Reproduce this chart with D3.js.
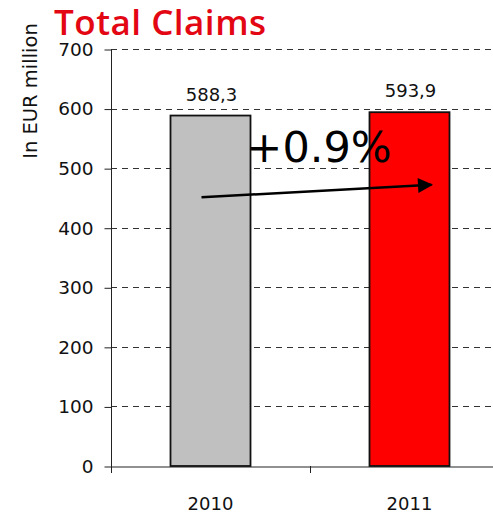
<!DOCTYPE html>
<html>
<head>
<meta charset="utf-8">
<script src="https://cdn.jsdelivr.net/npm/d3@7"></script>
<style>
  body { margin: 0; background: #fff; }
  svg { display: block; }
</style>
</head>
<body>
<div class="home"></div>
<script>
// Chart data
var years = ["2010", "2011", ""];
var claims = [588.3, 593.9];
var claimLabels = ["588,3", "593,9"];
var barColors = ["#c0c0c0", "#ff0000"];
var yTicks = [0, 100, 200, 300, 400, 500, 600, 700];
var growthLabel = "+0.9%";
// arrow start / end values (EUR million)
var arrowValues = [451, 472];

var width = 493,
    height = 515;
var font = "DejaVu Sans, sans-serif";

var svg = d3.select(".home").append("svg")
    .attr("width", width)
    .attr("height", height);

// scales
var x = d3.scaleBand()
    .domain(years)
    .range([111, 708])
    .paddingInner(0)
    .paddingOuter(0);

var y = d3.scaleLinear()
    .domain([0, 700])
    .range([466, 49]);

// dashed grid lines
svg.append("g")
    .selectAll("line")
    .data(yTicks.slice(1))
    .enter().append("line")
    .attr("x1", 111)
    .attr("x2", width)
    .attr("y1", function (d) { return Math.round(y(d)) + 0.5; })
    .attr("y2", function (d) { return Math.round(y(d)) + 0.5; })
    .attr("stroke", "#333")
    .attr("stroke-width", 1)
    .attr("stroke-dasharray", "6,5");

// y axis
var yAxis = svg.append("g")
    .attr("transform", "translate(111.5,0.5)")
    .call(d3.axisLeft(y).tickValues(yTicks).tickSize(7).tickPadding(11).tickFormat(d3.format("d")));
yAxis.select(".domain").attr("stroke", "#222").attr("d", "M0," + y(700) + "V" + y(0));
yAxis.selectAll(".tick line").attr("stroke", "#222");
yAxis.selectAll(".tick text")
    .attr("font-family", font)
    .attr("font-size", 18.5)
    .attr("fill", "#111");

// x axis
var xAxis = svg.append("g")
    .attr("transform", "translate(0," + (y(0) + 0.5) + ")")
    .call(d3.axisBottom(x).tickSize(0).tickFormat(""));
xAxis.select(".domain").attr("stroke", "#222");
// category boundary ticks
svg.append("g")
    .selectAll("line")
    .data(years)
    .enter().append("line")
    .attr("x1", function (d) { return Math.round(x(d)) + 0.5; })
    .attr("x2", function (d) { return Math.round(x(d)) + 0.5; })
    .attr("y1", y(0))
    .attr("y2", y(0) + 7)
    .attr("stroke", "#222");

// category labels
svg.append("g")
    .selectAll("text")
    .data(years.slice(0, 2))
    .enter().append("text")
    .attr("x", function (d) { return x(d) + x.bandwidth() / 2; })
    .attr("y", 510)
    .attr("text-anchor", "middle")
    .attr("font-family", font)
    .attr("font-size", 18)
    .attr("fill", "#111")
    .text(function (d) { return d; });

// bars
var barW = 80;
svg.append("g")
    .selectAll("rect")
    .data(claims)
    .enter().append("rect")
    .attr("x", function (d, i) { return x(years[i]) + x.bandwidth() / 2 - barW / 2; })
    .attr("y", function (d) { return y(d); })
    .attr("width", barW)
    .attr("height", function (d) { return y(0) - y(d); })
    .attr("fill", function (d, i) { return barColors[i]; })
    .attr("stroke", "#111")
    .attr("stroke-width", 1.8);

// value labels
svg.append("g")
    .selectAll("text")
    .data(claims)
    .enter().append("text")
    .attr("x", function (d, i) { return x(years[i]) + x.bandwidth() / 2 + 1; })
    .attr("y", function (d) { return y(d) - 15; })
    .attr("text-anchor", "middle")
    .attr("font-family", font)
    .attr("font-size", 18)
    .attr("fill", "#111")
    .text(function (d, i) { return claimLabels[i]; });

// arrow
svg.append("defs").append("marker")
    .attr("id", "head")
    .attr("viewBox", "0 0 10 10")
    .attr("refX", 9)
    .attr("refY", 5)
    .attr("markerWidth", 6.5)
    .attr("markerHeight", 6)
    .attr("orient", "auto")
    .append("path")
    .attr("d", "M0,0L10,5L0,10Z")
    .attr("fill", "#000");

svg.append("line")
    .attr("x1", x(years[0]) + x.bandwidth() / 2 - 9)
    .attr("y1", y(arrowValues[0]))
    .attr("x2", x(years[1]) + x.bandwidth() / 2 + 22)
    .attr("y2", y(arrowValues[1]))
    .attr("stroke", "#000")
    .attr("stroke-width", 2.5)
    .attr("marker-end", "url(#head)");

// growth label
svg.append("text")
    .attr("x", 319)
    .attr("y", 162)
    .attr("text-anchor", "middle")
    .attr("font-family", font)
    .attr("font-size", 43)
    .attr("fill", "#000")
    .text(growthLabel);

// title
svg.append("text")
    .attr("x", 54)
    .attr("y", 35)
    .attr("font-family", "Open Sans, sans-serif")
    .attr("font-weight", 600)
    .attr("font-size", 35)
    .attr("letter-spacing", 0.5)
    .attr("fill", "#e30613")
    .text("Total Claims");

// y axis title
svg.append("text")
    .attr("transform", "translate(37,91) rotate(-90)")
    .attr("text-anchor", "middle")
    .attr("font-family", font)
    .attr("font-size", 19.5)
    .attr("fill", "#111")
    .text("In EUR million");
</script>
</body>
</html>
